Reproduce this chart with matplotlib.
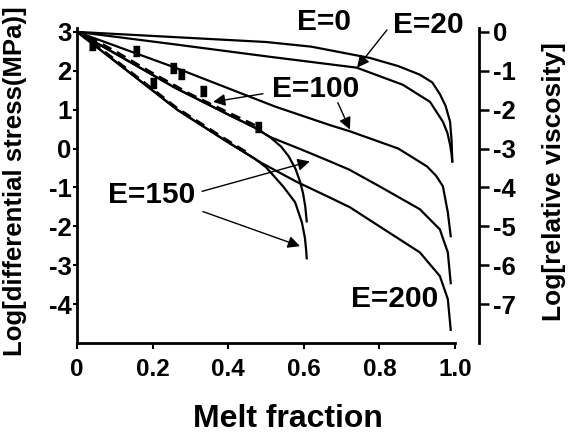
import matplotlib
matplotlib.use('Agg')
import matplotlib.pyplot as plt

plt.rcParams['font.family'] = ['Liberation Sans', 'DejaVu Sans']
plt.rcParams['font.weight'] = 'bold'
plt.rcParams['axes.unicode_minus'] = False

# ---- data ----
x_e0 = [0, 0.25, 0.5, 0.62, 0.775, 0.85, 0.907, 0.94, 0.96, 0.975, 0.987, 0.991, 0.993]
y_e0 = [3.0, 2.87, 2.74, 2.62, 2.33, 2.12, 1.9, 1.7, 1.4, 1.1, 0.69, 0.2, -0.36]

x_e20 = [0, 0.25, 0.51, 0.74, 0.862, 0.934, 0.968, 0.98, 0.987, 0.991, 0.993]
y_e20 = [3.0, 2.69, 2.36, 2.08, 1.64, 1.2, 0.69, 0.4, 0.1, -0.15, -0.36]

x_e100 = [0, 0.26, 0.524, 0.67, 0.72, 0.85, 0.926, 0.95, 0.968, 0.981, 0.989]
y_e100 = [3.0, 2.08, 1.08, 0.6, 0.45, 0.0, -0.46, -0.7, -0.97, -1.64, -2.28]

x_e150 = [0, 0.1, 0.26, 0.405, 0.47, 0.51, 0.6, 0.669, 0.72, 0.8, 0.907, 0.96, 0.981, 0.989]
y_e150 = [3.0, 2.45, 1.56, 0.85, 0.54, 0.3, -0.05, -0.33, -0.54, -0.97, -1.56, -2.08, -2.67, -3.49]

x_e200 = [0, 0.1, 0.265, 0.39, 0.49, 0.58, 0.669, 0.722, 0.8, 0.907, 0.96, 0.981, 0.989]
y_e200 = [3.0, 2.25, 1.0, 0.22, -0.38, -0.85, -1.26, -1.51, -2.0, -2.67, -3.28, -3.87, -4.69]

# curves that terminate near melt fraction 0.6
x_e100s = [0, 0.1, 0.26, 0.405, 0.47, 0.51, 0.54, 0.56, 0.578, 0.59, 0.598, 0.604, 0.608]
y_e100s = [3.0, 2.45, 1.56, 0.85, 0.54, 0.3, 0.05, -0.2, -0.52, -0.85, -1.15, -1.5, -1.9]

x_e150s = [0, 0.1, 0.265, 0.39, 0.47, 0.5, 0.545, 0.577, 0.595, 0.603, 0.606, 0.608]
y_e150s = [3.0, 2.25, 1.0, 0.22, -0.26, -0.48, -0.97, -1.38, -1.9, -2.3, -2.59, -2.85]

# dashed model lines
x_dash1 = [0.03, 0.1, 0.193, 0.3, 0.4, 0.48]
y_dash1 = [2.88, 2.51, 1.98, 1.40, 0.93, 0.56]
x_dash2 = [0.04, 0.1, 0.265, 0.39, 0.45]
y_dash2 = [2.74, 2.29, 1.04, 0.26, -0.10]

# experimental points
x_pts = [0.04, 0.155, 0.2, 0.255, 0.275, 0.333, 0.478]
y_pts = [2.65, 2.5, 1.69, 2.06, 1.92, 1.48, 0.56]

xticks = [0, 0.2, 0.4, 0.6, 0.8, 1.0]
xtick_labels = ['0', '0.2', '0.4', '0.6', '0.8', '1.0']
left_ticks = [3, 2, 1, 0, -1, -2, -3, -4]
right_ticks = [0, -1, -2, -3, -4, -5, -6, -7]

fig = plt.figure(figsize=(5.68, 4.34), dpi=100)
ax = fig.add_axes([77/568, 1-343/434, 402/568, 315/434])

lw = 1.6
for xs, ys in [(x_e0, y_e0), (x_e20, y_e20), (x_e100, y_e100), (x_e150, y_e150),
               (x_e200, y_e200), (x_e100s, y_e100s), (x_e150s, y_e150s)]:
    ax.plot(xs, ys, color='black', lw=lw, solid_capstyle='butt')
ax.plot(x_dash1, y_dash1, color='black', lw=1.8, ls=(0, (4, 2.5)))
ax.plot(x_dash2, y_dash2, color='black', lw=1.8, ls=(0, (4, 2.5)))
rect = [(-0.3, -0.5), (0.3, -0.5), (0.3, 0.5), (-0.3, 0.5)]
ax.plot(x_pts, y_pts, ls='none', marker=rect, markersize=7, color='black')

ax.set_xlim(0, 1.0635)
ax.set_ylim(-5, 3.1)
ax.spines['top'].set_visible(False)
ax.spines['right'].set_visible(False)
ax.spines['bottom'].set_bounds(0, 1.0)
ax.spines['left'].set_linewidth(2)
ax.spines['bottom'].set_linewidth(2)
ax.set_xticks(xticks)
ax.set_xticklabels(xtick_labels, fontsize=17.5, fontweight='bold')
ax.set_yticks(left_ticks)
ax.set_yticklabels([str(t) for t in left_ticks], fontsize=18.5, fontweight='bold')
ax.tick_params(axis='x', direction='out', length=4, width=1.5, pad=7)
ax.tick_params(axis='y', direction='out', length=3, width=1.5, pad=1)

ax2 = ax.twinx()
ax2.set_ylim(-8, 0.1)
for s in ['left', 'top', 'bottom']:
    ax2.spines[s].set_visible(False)
ax2.spines['right'].set_linewidth(2)
ax2.set_yticks(right_ticks)
ax2.set_yticklabels([str(t) for t in right_ticks], fontsize=18.5, fontweight='bold')
ax2.tick_params(axis='y', direction='out', length=7, width=1.8, pad=3)

# labels
fig.text(288/568, 1-419/434, 'Melt fraction', fontsize=23, fontweight='bold',
         ha='center', va='center')
fig.text(15/568, 1-181/434, 'Log[differential stress(MPa)]', fontsize=18.5,
         fontweight='bold', rotation=90, ha='center', va='center')
fig.text(554/568, 1-182/434, 'Log[relative viscosity]', fontsize=19,
         fontweight='bold', rotation=90, ha='center', va='center')

# curve annotations
tfs = 21.5
ax.text(0.654, 3.26, 'E=0', fontsize=tfs, fontweight='bold', ha='center', va='center')
ax.text(0.929, 3.18, 'E=20', fontsize=tfs, fontweight='bold', ha='center', va='center')
ax.text(0.632, 1.54, 'E=100', fontsize=tfs, fontweight='bold', ha='center', va='center')
ax.text(0.198, -1.2, 'E=150', fontsize=tfs, fontweight='bold', ha='center', va='center')
ax.text(0.839, -3.87, 'E=200', fontsize=tfs, fontweight='bold', ha='center', va='center')

arr = dict(arrowstyle='-|>', color='black', lw=1.0, mutation_scale=18,
           shrinkA=0, shrinkB=0)
ax.annotate('', xy=(0.741, 2.08), xytext=(0.82, 3.05), arrowprops=arr)
ax.annotate('', xy=(0.36, 1.2), xytext=(0.492, 1.41), arrowprops=arr)
ax.annotate('', xy=(0.722, 0.49), xytext=(0.69, 1.18), arrowprops=arr)
ax.annotate('', xy=(0.616, -0.33), xytext=(0.331, -1.1), arrowprops=arr)
ax.annotate('', xy=(0.59, -2.51), xytext=(0.333, -1.62), arrowprops=arr)

plt.savefig('out.png', dpi=100)
plt.close()
